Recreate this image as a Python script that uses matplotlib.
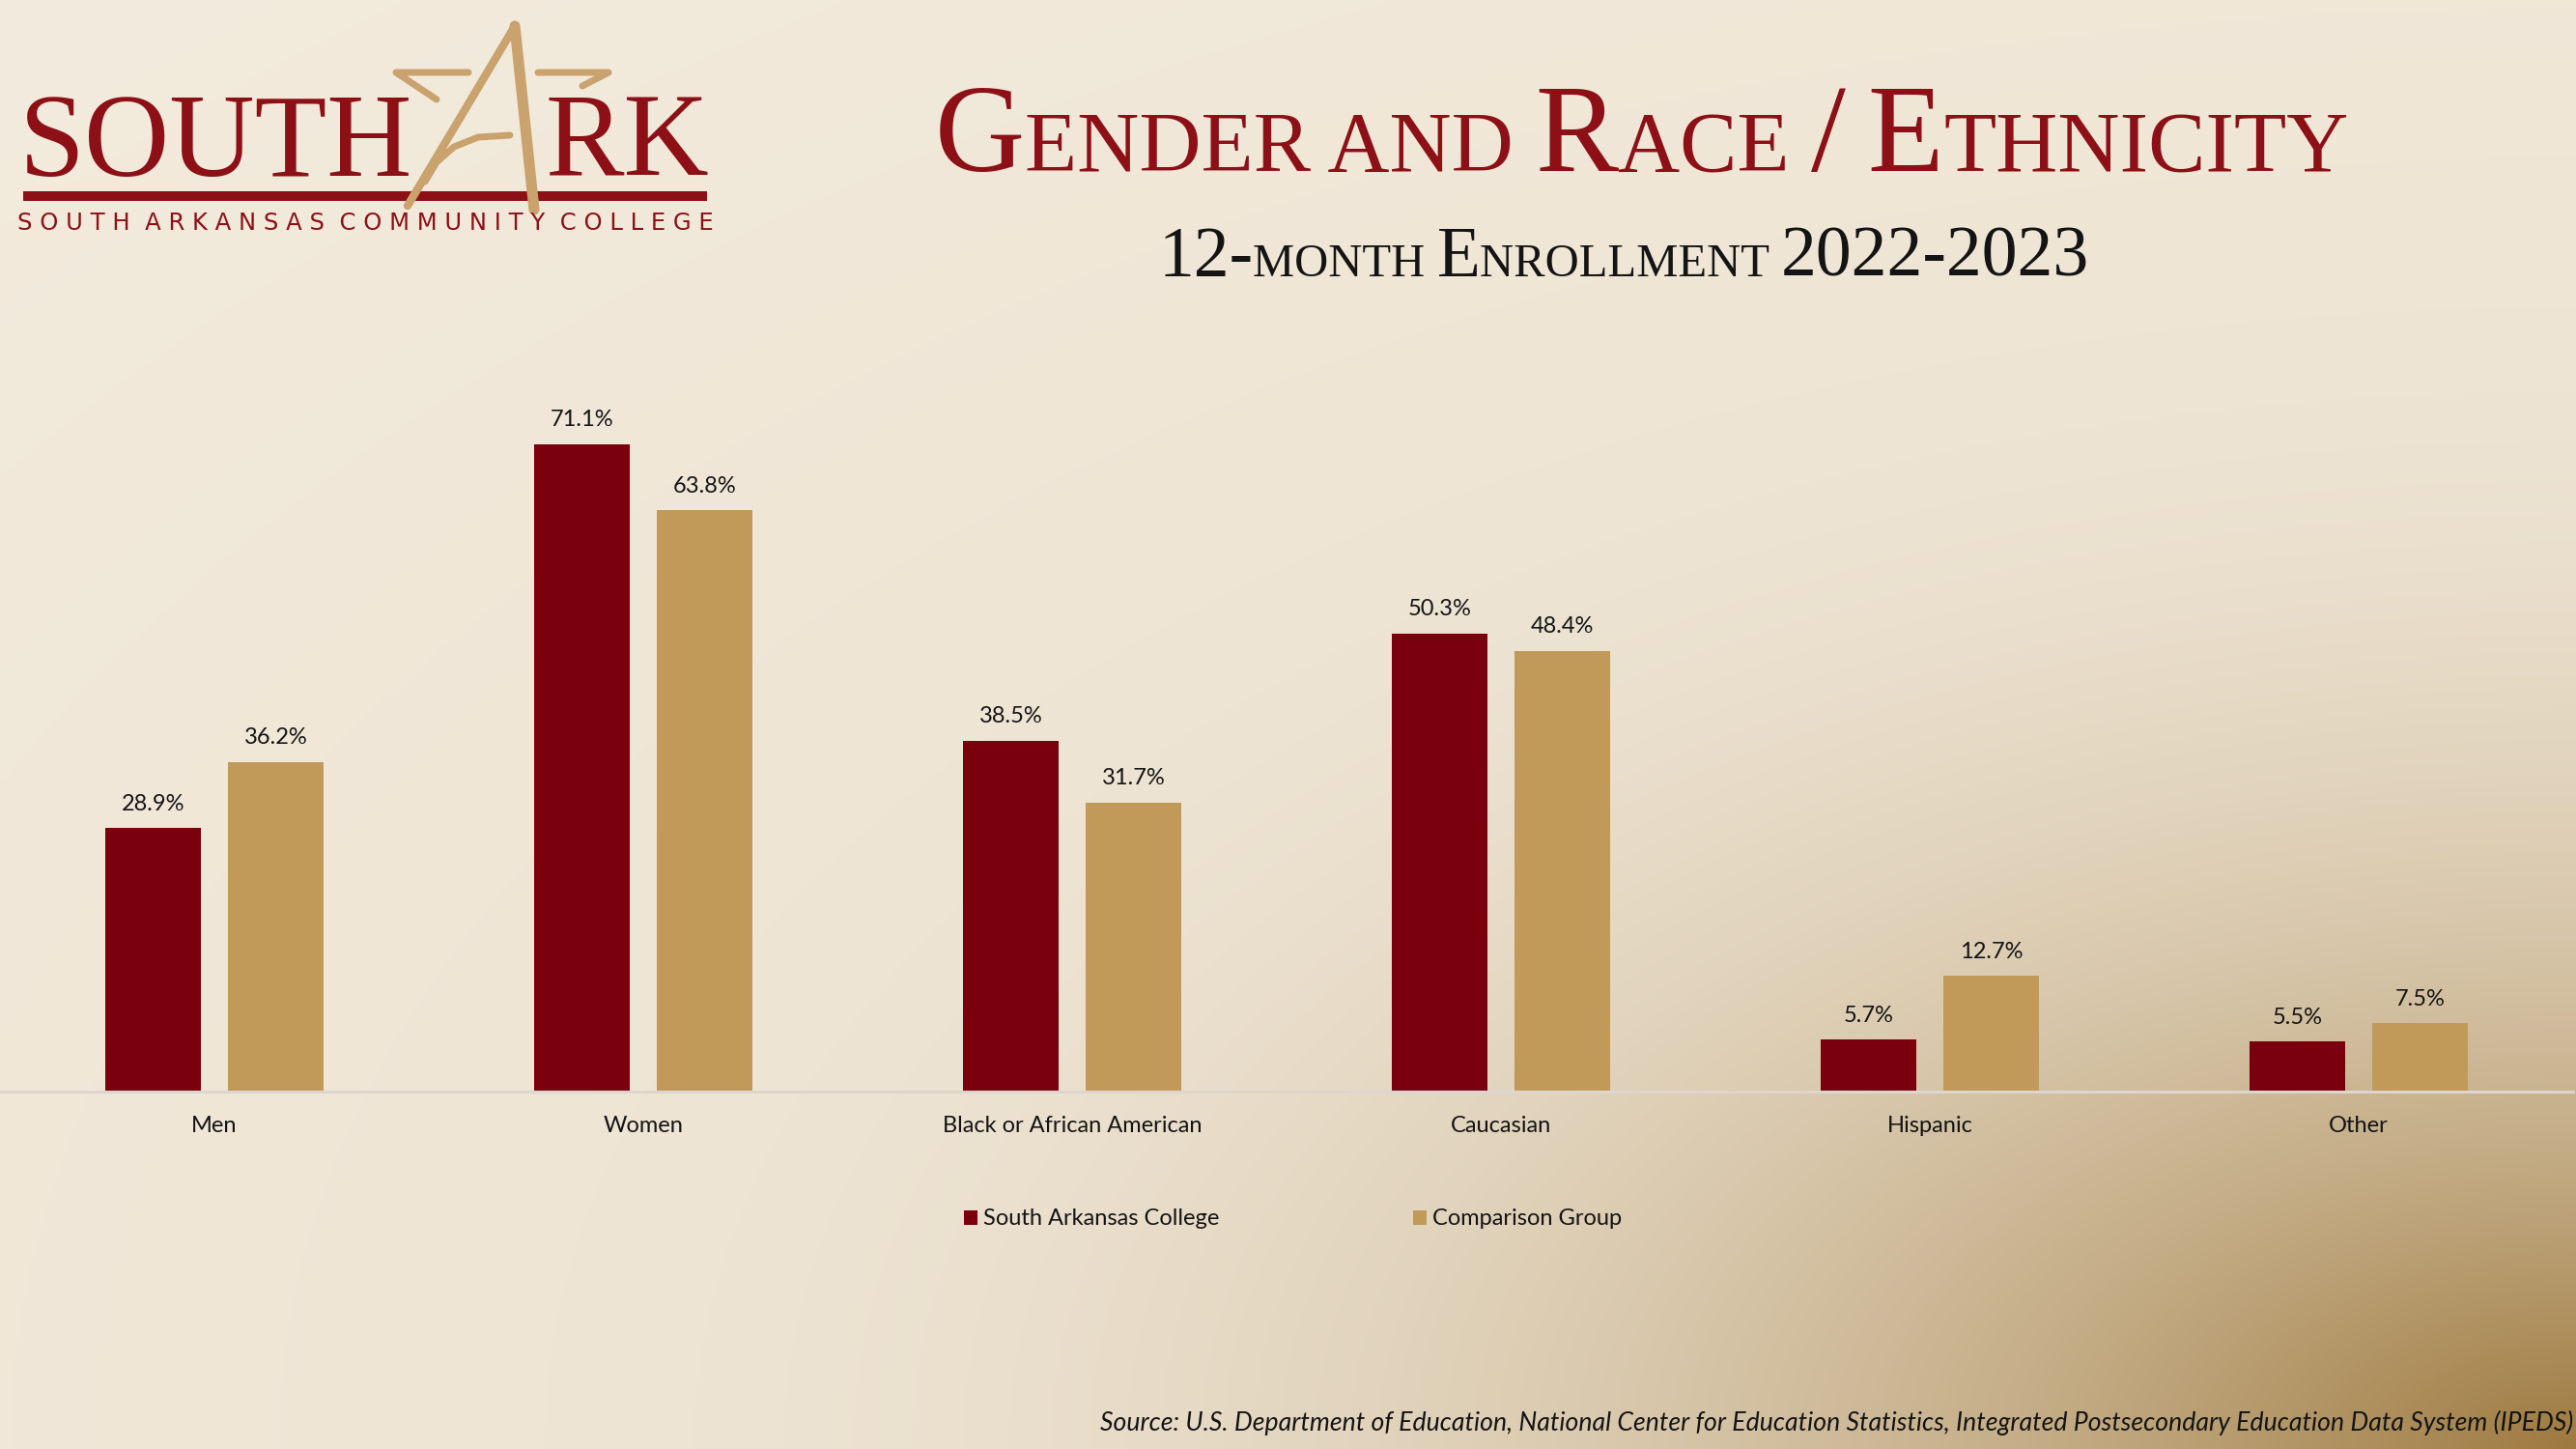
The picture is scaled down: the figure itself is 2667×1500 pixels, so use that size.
import numpy as np
import matplotlib
matplotlib.use("Agg")
import matplotlib.pyplot as plt
from matplotlib.patches import Patch, Rectangle
from matplotlib.offsetbox import TextArea, HPacker, AnchoredOffsetbox

# data
categories = ['Men', 'Women', 'Black or African American', 'Caucasian', 'Hispanic', 'Other']
sac_values = [28.9, 71.1, 38.5, 50.3, 5.7, 5.5]
comp_values = [36.2, 63.8, 31.7, 48.4, 12.7, 7.5]
series_names = ['South Arkansas College', 'Comparison Group']

W, H = 2667, 1500
color_sac = '#7a000e'
color_comp = '#c19a5a'
color_red = '#8c1016'
color_gold = '#c9a26e'
txt = '#141414'

plt.rcParams['font.family'] = ['Lato', 'DejaVu Sans']

fig = plt.figure(figsize=(W / 100, H / 100), dpi=100)

# fondo con degradado hacia la esquina inferior derecha
bg = fig.add_axes([0, 0, 1, 1], zorder=-10)
gx, gy = np.meshgrid(np.linspace(0, 1, 400), np.linspace(0, 1, 225))
r = np.sqrt((1 - gx) ** 2 + (1 - gy) ** 2)
f = 0.12 * (1 - r / np.sqrt(2)) + 0.88 * np.clip(1 - r / 0.8, 0, 1) ** 2.2
c0 = np.array([243, 235, 221]) / 255
c1 = np.array([158, 122, 64]) / 255
img = c0 + (c1 - c0) * f[..., None]
bg.imshow(img, extent=[0, 1, 1, 0], aspect='auto', interpolation='bilinear')
bg.set_xlim(0, 1)
bg.set_ylim(1, 0)
bg.axis('off')

# grafico principal
ax = fig.add_axes([0, 1 - 1130 / H, 2664 / W, (1130 - 375.6) / H])
ax.set_facecolor('none')
x = np.arange(len(categories))
w = 0.225
b1 = ax.bar(x - 0.143, sac_values, w, color=color_sac, zorder=2)
b2 = ax.bar(x + 0.143, comp_values, w, color=color_comp, zorder=2)
for bars in (b1, b2):
    ax.bar_label(bars, fmt='%.1f%%', padding=10.5, fontsize=17, color=txt)
ax.set_xlim(-0.5, len(categories) - 0.5)
ax.set_ylim(0, 80)
ax.set_xticks(x, categories, fontsize=17, color=txt)
ax.tick_params(axis='x', length=0, pad=18)
ax.set_yticks([])
for s in ['top', 'right', 'left']:
    ax.spines[s].set_visible(False)
ax.spines['bottom'].set_color('#ddd6ce')
ax.spines['bottom'].set_linewidth(2.2)

legend_elements = [Patch(facecolor=color_sac, label=series_names[0]),
                   Patch(facecolor=color_comp, label=series_names[1])]
fig.legend(handles=legend_elements, loc='center', bbox_to_anchor=(0.502, 1 - 1262 / H), ncol=2,
           frameon=False, fontsize=17, handlelength=0.6, handleheight=0.6, handletextpad=0.25,
           columnspacing=8.5, labelcolor=txt)


# titulos en versalitas
def small_caps(parts, big, small, color, xc, yc):
    boxes = [TextArea(s, textprops=dict(fontsize=big if b else small, color=color,
                                        family='Liberation Serif')) for s, b in parts]
    pack = HPacker(children=boxes, align='baseline', pad=0, sep=0)
    box = AnchoredOffsetbox(loc='center', child=pack, pad=0, borderpad=0, frameon=False,
                            bbox_to_anchor=(xc, yc), bbox_transform=fig.transFigure)
    fig.add_artist(box)


small_caps([('G', 1), ('ENDER AND ', 0), ('R', 1), ('ACE ', 0), ('/', 1), (' ', 0),
            ('E', 1), ('THNICITY', 0)], 93, 64, color_red, 1700 / W, 1 - 146 / H)
small_caps([('12-', 1), ('MONTH ', 0), ('E', 1), ('NROLLMENT ', 0), ('2022-2023', 1)],
           53, 35, txt, 1681 / W, 1 - 268 / H)

# logo
lg = fig.add_axes([0, 0, 1, 1], zorder=5)
lg.set_xlim(0, W)
lg.set_ylim(H, 0)
lg.axis('off')
lg.text(20, 182, 'SOUTH', fontsize=88, color=color_red, family='Liberation Serif', va='baseline')
lg.text(565, 182, 'RK', fontsize=88, color=color_red, family='Liberation Serif', va='baseline')
lg.add_patch(Rectangle((24, 198), 708, 10, color=color_red, lw=0))
lg.text(378, 231, '  '.join(' '.join(wd) for wd in 'SOUTH ARKANSAS COMMUNITY COLLEGE'.split()),
        fontsize=17.5, color=color_red, family='DejaVu Sans', ha='center', va='center')
gold = dict(color=color_gold, solid_capstyle='round', solid_joinstyle='round')
lg.plot([422, 533], [213, 27], lw=6, **gold)
lg.plot([533, 553], [27, 217], lw=8, **gold)
lg.plot([485, 410, 452], [75, 75, 103], lw=5, **gold)
lg.plot([557, 630, 603], [75, 75, 89], lw=5, **gold)
lg.plot([528, 495, 470, 452, 440], [140, 142, 152, 168, 188], lw=5, **gold)

# fuente
fig.text(0.999, 1 - 1473 / H,
         'Source: U.S. Department of Education, National Center for Education Statistics, '
         'Integrated Postsecondary Education Data System (IPEDS)',
         ha='right', va='center', fontsize=19.2, style='italic', color=txt)

fig.savefig('out.png', dpi=100)
